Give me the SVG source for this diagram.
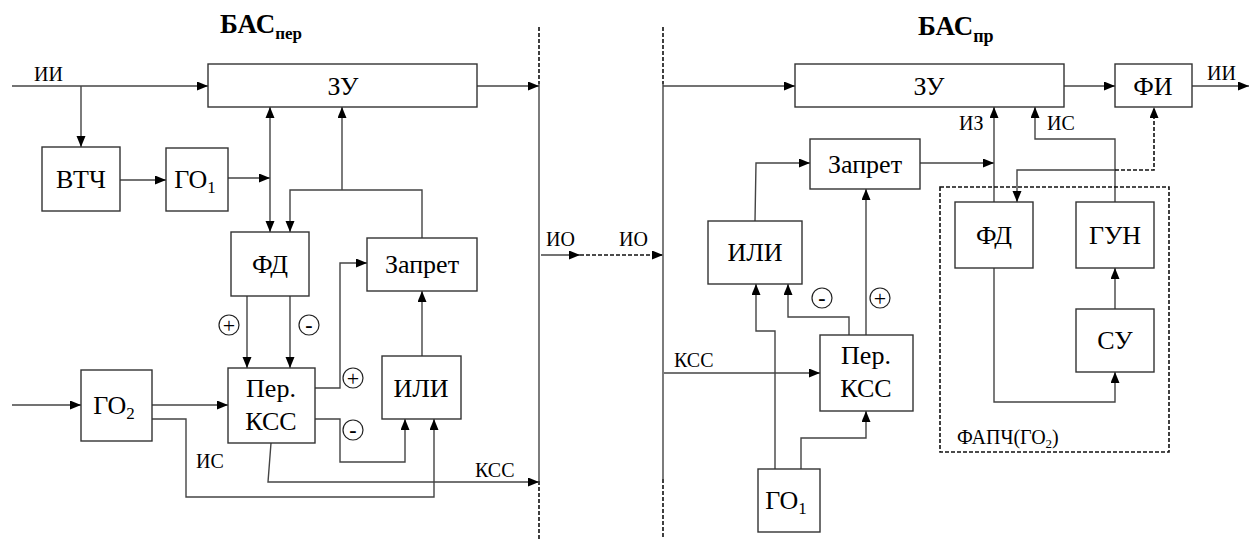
<svg xmlns="http://www.w3.org/2000/svg" width="1250" height="539" viewBox="0 0 1250 539" font-family="'Liberation Serif', 'Times New Roman', serif">
<style>
.b{fill:#fff;stroke:#333;stroke-width:1.4}
.c{fill:none;stroke:#444;stroke-width:1.4}
.d{fill:none;stroke:#111;stroke-width:1.6;stroke-dasharray:4 2}
text{font-family:'Liberation Serif','Times New Roman',serif}
.t{font-size:26px;fill:#000;text-anchor:middle}
.s{font-size:20px;fill:#000}
.h{font-size:27px;font-weight:bold;fill:#000}
.sg{fill:#fff;stroke:#222;stroke-width:1.2}
.sgt{font-size:22px;fill:#000;text-anchor:middle}
</style>
<defs>
<marker id="a" markerUnits="userSpaceOnUse" markerWidth="12" markerHeight="10" refX="11" refY="4.5" orient="auto"><path d="M0,0 L11,4.5 L0,9 z" fill="#000"/></marker>
<marker id="as" markerUnits="userSpaceOnUse" markerWidth="12" markerHeight="10" refX="0" refY="4.5" orient="auto"><path d="M11,0 L0,4.5 L11,9 z" fill="#000"/></marker>
</defs>
<rect width="1250" height="539" fill="#fff"/>

<g id="titles">
<text class="h" x="220" y="33">БАС<tspan font-size="17" dy="6">пер</tspan></text>
<text class="h" x="918" y="35">БАС<tspan font-size="18" dy="7">пр</tspan></text>
</g>

<g id="separators">
<line class="d" x1="539" y1="27" x2="539" y2="84"/>
<line class="c" x1="539" y1="84" x2="539" y2="481"/>
<line class="d" x1="539" y1="481" x2="539" y2="539"/>
<line class="d" x1="663" y1="27" x2="663" y2="84"/>
<line class="c" x1="663" y1="84" x2="663" y2="479"/>
<line class="d" x1="663" y1="479" x2="663" y2="539"/>
</g>

<g id="connectors">
<polyline class="c" points="12,86 208,86" marker-end="url(#a)"/>
<polyline class="c" points="81,86 81,147" marker-end="url(#a)"/>
<polyline class="c" points="120,180 166,180" marker-end="url(#a)"/>
<polyline class="c" points="228,178 270,178" marker-end="url(#a)"/>
<polyline class="c" points="270,107 270,232" marker-start="url(#as)" marker-end="url(#a)"/>
<polyline class="c" points="422,238 422,190 290,190 290,232" marker-end="url(#a)"/>
<polyline class="c" points="342,190 342,107" marker-end="url(#a)"/>
<polyline class="c" points="477,86 539,86" marker-end="url(#a)"/>
<polyline class="c" points="247,296 247,368" marker-end="url(#a)"/>
<polyline class="c" points="290,296 290,368" marker-end="url(#a)"/>
<polyline class="c" points="315,388 340,388 340,263 367,263" marker-end="url(#a)"/>
<polyline class="c" points="315,419 340,419 340,462 405,462 405,419" marker-end="url(#a)"/>
<polyline class="c" points="422,356 422,291" marker-end="url(#a)"/>
<polyline class="c" points="12,405 81,405" marker-end="url(#a)"/>
<polyline class="c" points="152,405 228,405" marker-end="url(#a)"/>
<polyline class="c" points="152,419 186,419 186,497 434,497 434,419" marker-end="url(#a)"/>
<polyline class="c" points="271,443 268,482 539,482" marker-end="url(#a)"/>
<polyline class="c" points="541,255 580,255" marker-end="url(#a)"/>
<polyline class="d" points="580,255 663,255" marker-end="url(#a)"/>
<polyline class="c" points="663,86 795,86" marker-end="url(#a)"/>
<polyline class="c" points="1064,86 1115,86" marker-end="url(#a)"/>
<polyline class="c" points="1192,86 1249,86" marker-end="url(#a)"/>
<polyline class="c" points="920,163 994,163" marker-end="url(#a)"/>
<polyline class="c" points="994,202 994,107" marker-end="url(#a)"/>
<polyline class="c" points="1115,202 1115,139 1035,139 1035,107" marker-end="url(#a)"/>
<polyline class="c" points="1115,170 1017,170 1017,202" marker-end="url(#a)"/>
<polyline class="d" points="1115,170 1154,170 1154,107" marker-end="url(#a)"/>
<polyline class="c" points="1115,309 1115,268" marker-end="url(#a)"/>
<polyline class="c" points="994,268 994,402 1115,402 1115,372" marker-end="url(#a)"/>
<polyline class="c" points="755,221 756,163 810,163" marker-end="url(#a)"/>
<polyline class="c" points="664,373 820,373" marker-end="url(#a)"/>
<polyline class="c" points="849,335 849,317 788,317 788,284" marker-end="url(#a)"/>
<polyline class="c" points="866,335 866,189" marker-end="url(#a)"/>
<polyline class="c" points="775,469 775,331 756,331 756,284" marker-end="url(#a)"/>
<polyline class="c" points="801,469 801,438 866,438 866,411" marker-end="url(#a)"/>
</g>

<g id="labels">
<text class="s" x="34" y="81">ИИ</text>
<text class="s" x="196" y="468">ИС</text>
<text class="s" x="475" y="477">КСС</text>
<text class="s" x="546" y="246">ИО</text>
<text class="s" x="619" y="246">ИО</text>
<text class="s" x="1207" y="80">ИИ</text>
<text class="s" x="959" y="130">ИЗ</text>
<text class="s" x="1047" y="130">ИС</text>
<text class="s" x="674" y="367">КСС</text>
</g>

<g id="signs">
<circle class="sg" cx="229" cy="325" r="10"/><text class="sgt" x="229" y="332.5">+</text>
<circle class="sg" cx="309" cy="325" r="10"/><text class="sgt" x="309" y="332" font-weight="bold">-</text>
<circle class="sg" cx="353" cy="378" r="10"/><text class="sgt" x="353" y="385.5">+</text>
<circle class="sg" cx="353" cy="430" r="10"/><text class="sgt" x="353" y="437" font-weight="bold">-</text>
<circle class="sg" cx="822" cy="298" r="10"/><text class="sgt" x="822" y="305" font-weight="bold">-</text>
<circle class="sg" cx="880" cy="298" r="10"/><text class="sgt" x="880" y="305.5">+</text>
</g>

<g id="zu-left"><rect class="b" x="208" y="64" width="269" height="43"/><text class="t" x="343" y="95">ЗУ</text></g>
<g id="vtch"><rect class="b" x="42" y="147" width="78" height="64"/><text class="t" x="81" y="188">ВТЧ</text></g>
<g id="go1-left"><rect class="b" x="166" y="148" width="62" height="63"/><text class="t" x="195" y="188">ГО<tspan font-size="17" dy="5">1</tspan></text></g>
<g id="fd-left"><rect class="b" x="231" y="232" width="78" height="64"/><text class="t" x="270" y="273">ФД</text></g>
<g id="zapret-left"><rect class="b" x="367" y="238" width="110" height="53"/><text class="t" x="422" y="273">Запрет</text></g>
<g id="per-left"><rect class="b" x="228" y="368" width="87" height="75"/><text class="t" x="271" y="397">Пер.</text><text class="t" x="271" y="430">КСС</text></g>
<g id="ili-left"><rect class="b" x="382" y="356" width="79" height="63"/><text class="t" x="421" y="397">ИЛИ</text></g>
<g id="go2"><rect class="b" x="81" y="370" width="71" height="71"/><text class="t" x="114" y="414">ГО<tspan font-size="17" dy="5">2</tspan></text></g>

<g id="fapch"><rect x="940" y="187" width="229" height="265" fill="none" stroke="#111" stroke-width="1.6" stroke-dasharray="4 2"/><text class="s" x="957" y="444">ФАПЧ(ГО<tspan font-size="13" dy="4">2</tspan><tspan dy="-4">)</tspan></text></g>
<g id="zu-right"><rect class="b" x="795" y="64" width="269" height="43"/><text class="t" x="929" y="95">ЗУ</text></g>
<g id="fi"><rect class="b" x="1115" y="64" width="77" height="43"/><text class="t" x="1153" y="95">ФИ</text></g>
<g id="zapret-right"><rect class="b" x="810" y="139" width="110" height="50"/><text class="t" x="865" y="173">Запрет</text></g>
<g id="fd-right"><rect class="b" x="955" y="202" width="78" height="66"/><text class="t" x="994" y="244">ФД</text></g>
<g id="gun"><rect class="b" x="1076" y="202" width="78" height="66"/><text class="t" x="1115" y="244">ГУН</text></g>
<g id="su"><rect class="b" x="1076" y="309" width="78" height="63"/><text class="t" x="1115" y="349">СУ</text></g>
<g id="ili-right"><rect class="b" x="708" y="221" width="94" height="63"/><text class="t" x="755" y="261">ИЛИ</text></g>
<g id="per-right"><rect class="b" x="820" y="335" width="93" height="76"/><text class="t" x="866" y="364">Пер.</text><text class="t" x="866" y="397">КСС</text></g>
<g id="go1-right"><rect class="b" x="758" y="469" width="62" height="63"/><text class="t" x="786" y="509">ГО<tspan font-size="17" dy="5">1</tspan></text></g>
</svg>
